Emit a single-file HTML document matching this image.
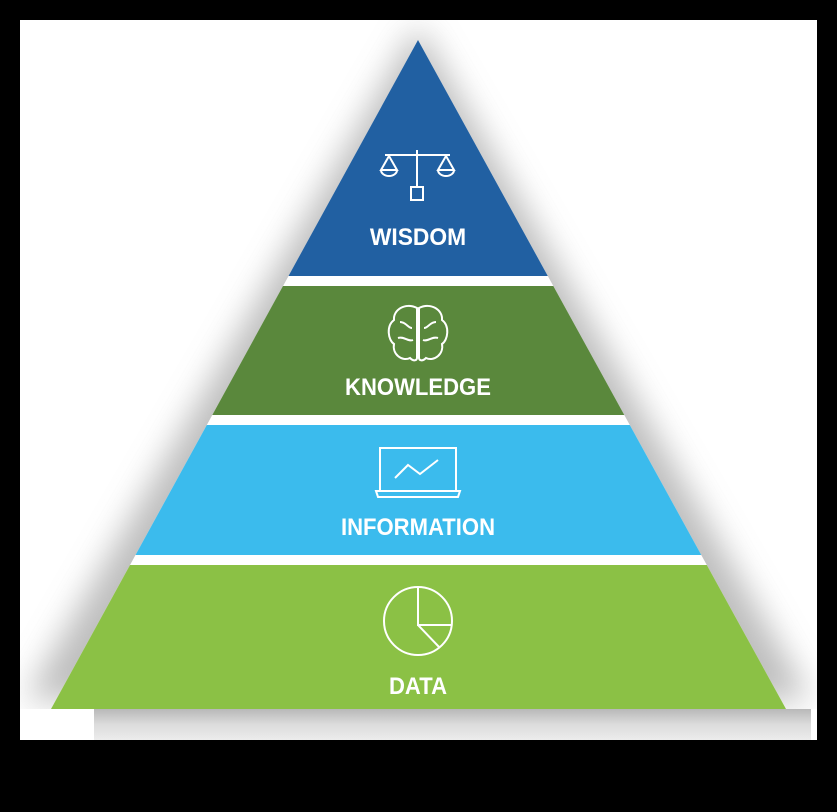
<!DOCTYPE html>
<html><head><meta charset="utf-8"><style>
html,body{margin:0;padding:0;background:#000;width:837px;height:812px;overflow:hidden}
svg{display:block}
text{font-family:"Liberation Sans",sans-serif;font-weight:bold;fill:#fff;text-anchor:middle}
</style></head><body>
<svg width="837" height="812" viewBox="0 0 837 812">
<defs>
<filter id="b" x="-20%" y="-20%" width="140%" height="140%"><feGaussianBlur stdDeviation="16"/></filter>
<linearGradient id="g" x1="0" y1="0" x2="0" y2="1"><stop offset="0" stop-color="#b8b8b8"/><stop offset="0.5" stop-color="#dcdcdc"/><stop offset="1" stop-color="#ececec"/></linearGradient>
<clipPath id="c"><rect x="20" y="20" width="797" height="720"/></clipPath>
</defs>
<rect x="20" y="20" width="797" height="720" fill="#fff"/>
<g clip-path="url(#c)">
<polygon points="418,25 25,700 811,700" fill="#a8a8a8" filter="url(#b)" opacity="0.75"/>
<rect x="0" y="709" width="837" height="40" fill="#fff"/>
<rect x="94" y="709" width="717" height="31" fill="url(#g)"/>
</g>
<polygon points="418,40 51,709 786,709" fill="#fff"/>
<polygon points="418,40 288.5,276 547.8,276" fill="#2160a2"/>
<polygon points="283,286 553.3,286 624.3,415 212.3,415" fill="#5a883c"/>
<polygon points="206.8,425 629.8,425 701.3,555 135.5,555" fill="#3bbbed"/>
<polygon points="130,565 706.8,565 786,709 51,709" fill="#8bc145"/>
<g fill="none" stroke="#fff" stroke-width="2">
<line x1="417" y1="150" x2="417" y2="187"/><line x1="385" y1="155" x2="450" y2="155"/>
<rect x="411" y="187" width="12" height="13"/>
<path d="M389 156 L381 170 H397 Z M381 170 A8 6 0 0 0 397 170"/>
<path d="M446 156 L438 170 H454 Z M438 170 A8 6 0 0 0 454 170"/>
<path d="M417 308 C405 302 393 310 394 320 C386 326 388 340 394 344 C392 354 402 362 410 358 C414 362 417 360 417 358 Z"/>
<path d="M419 308 C431 302 443 310 442 320 C450 326 448 340 442 344 C444 354 434 362 426 358 C422 362 419 360 419 358 Z"/>
<path d="M400 322 C406 322 408 328 412 328 M398 338 C404 336 408 342 413 340 M436 322 C430 322 428 328 424 328 M438 338 C432 336 428 342 423 340"/>
<rect x="380" y="448" width="76" height="43"/>
<path d="M376 491 H460 L458 497 H378 Z"/>
<polyline points="395,478 408,465 420,474 438,460"/>
<circle cx="418" cy="621" r="34"/>
<path d="M418 587 V625 H452 M418 625 L440 648"/>
</g>
<text x="418" y="245" font-size="24" transform="translate(418 0) scale(0.95 1) translate(-418 0)">WISDOM</text>
<text x="418" y="395" font-size="24" transform="translate(418 0) scale(0.92 1) translate(-418 0)">KNOWLEDGE</text>
<text x="418" y="535" font-size="24" transform="translate(418 0) scale(0.92 1) translate(-418 0)">INFORMATION</text>
<text x="418" y="694" font-size="24" transform="translate(418 0) scale(0.92 1) translate(-418 0)">DATA</text>
</svg>
</body></html>
